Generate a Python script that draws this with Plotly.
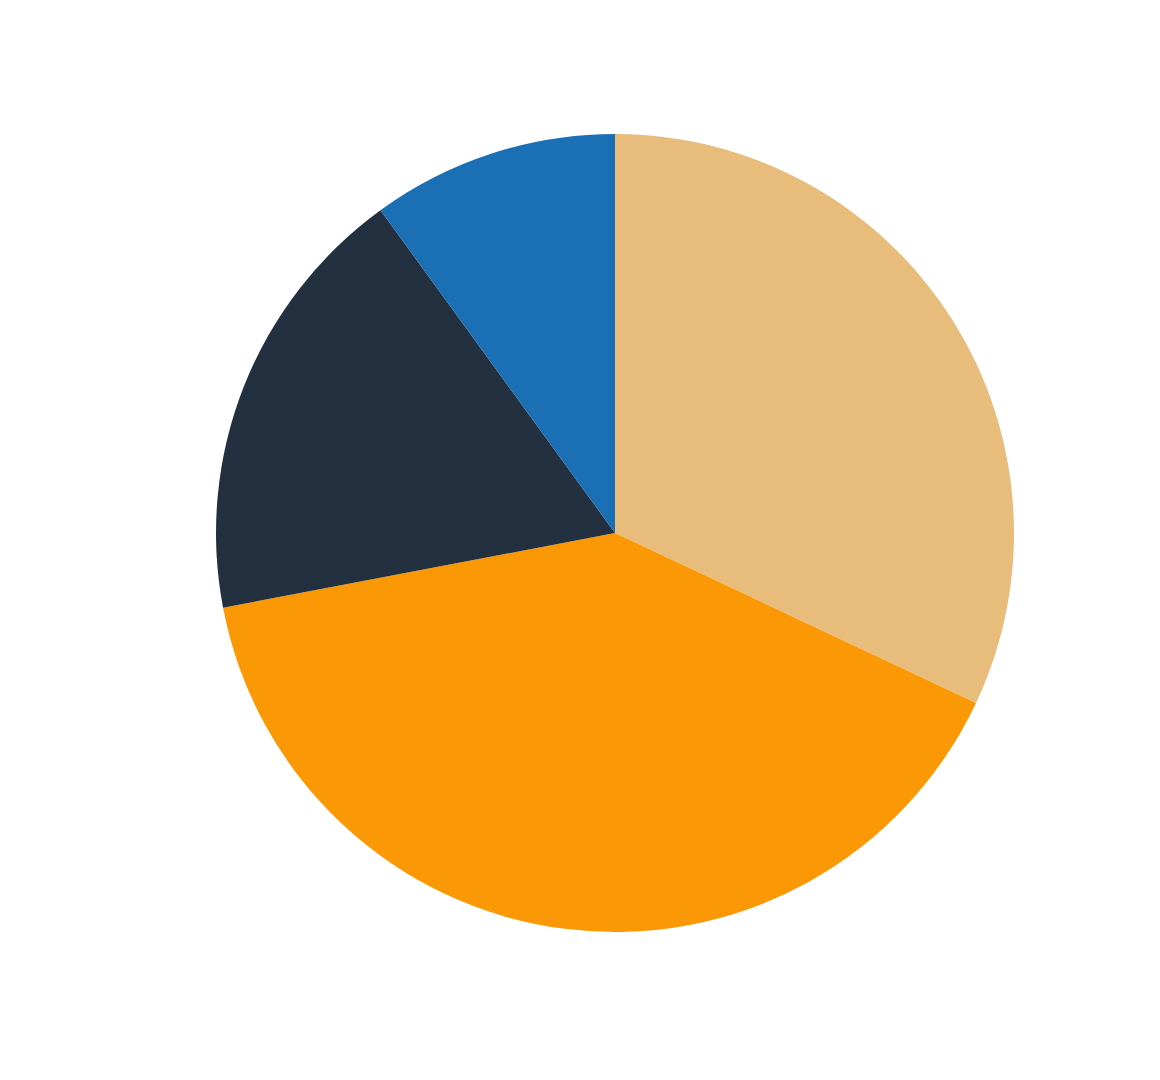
import plotly.graph_objects as go

labels = ["A", "B", "C", "D"]
values = [32, 40, 18, 10]
colors = ["#E8BD7C", "#FA9905", "#233040", "#1A6FB5"]

fig = go.Figure(go.Pie(
    labels=labels,
    values=values,
    sort=False,
    direction="clockwise",
    rotation=0,
    marker=dict(colors=colors, line=dict(width=0)),
    textinfo="none",
    hoverinfo="label+value+percent",
))
fig.update_layout(
    width=1160, height=1080,
    showlegend=False,
    paper_bgcolor="white",
    margin=dict(l=208, r=154, t=126, b=156),
)
fig.write_html("out.html")
